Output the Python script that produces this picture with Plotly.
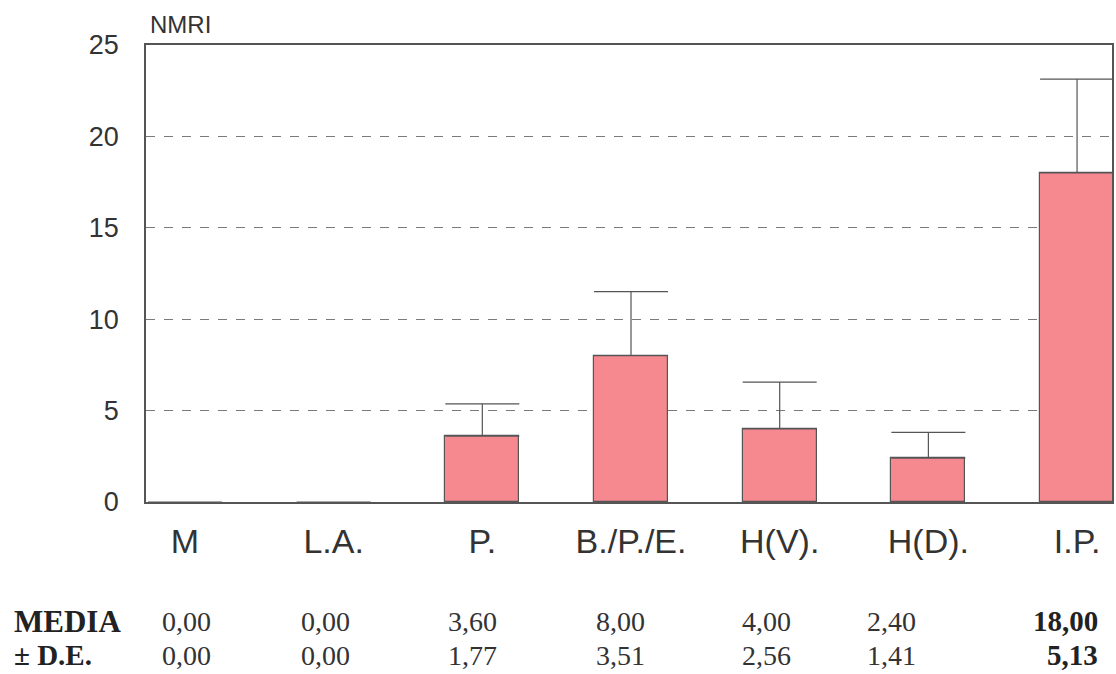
import plotly.graph_objects as go

categories = ["M", "L.A.", "P.", "B./P./E.", "H(V).", "H(D).", "I.P."]
media = [0.00, 0.00, 3.60, 8.00, 4.00, 2.40, 18.00]
de = [0.00, 0.00, 1.77, 3.51, 2.56, 1.41, 5.13]
media_labels = ["0,00", "0,00", "3,60", "8,00", "4,00", "2,40", "18,00"]
de_labels = ["0,00", "0,00", "1,77", "3,51", "2,56", "1,41", "5,13"]
y_ticks = [0, 5, 10, 15, 20, 25]

W, H = 1116, 674
L, R, T, B = 146, 2, 45, 172
PW = W - L - R
PH = H - T - B

def px2paper_x(px):
    return (px - L) / PW

def py2paper_y(py):
    return (H - B - py) / PH

fig = go.Figure()
fig.add_trace(go.Bar(
    x=list(range(len(categories))),
    y=media,
    width=0.497,
    marker=dict(color="#f5898f",
                line=dict(color="#555555", width=[1.2 if v > 0 else 0 for v in media])),
    error_y=dict(type="data", symmetric=False, array=de, arrayminus=[0] * len(de),
                 color="#555555", thickness=1.2, width=37),
    showlegend=False,
))

fig.update_layout(
    width=W, height=H,
    margin=dict(l=L, r=R, t=T, b=B, pad=0),
    paper_bgcolor="white", plot_bgcolor="white",
    font=dict(family="Liberation Sans, Arial, sans-serif", color="#333333"),
    bargap=0,
)
fig.update_xaxes(
    tickmode="array", tickvals=list(range(len(categories))), ticktext=categories,
    range=[-0.262, 6.235], showgrid=False, zeroline=False,
    showline=True, linecolor="#555555", linewidth=1.5, mirror=True,
    ticks="", tickfont=dict(size=34, color="#333333"), ticklabelstandoff=8,
)
fig.update_yaxes(
    range=[0, 25], tickvals=y_ticks, showgrid=True, gridcolor="#7a7a7a",
    griddash="dash", gridwidth=1, zeroline=False,
    showline=True, linecolor="#555555", linewidth=1.5, mirror=True,
    ticks="", tickfont=dict(size=27, color="#333333"), ticklabelstandoff=20,
)

ann = []
ann.append(dict(text="NMRI", x=px2paper_x(148), y=py2paper_y(25), xref="paper", yref="paper",
                xanchor="left", yanchor="middle", showarrow=False,
                font=dict(size=24, color="#333333", family="Liberation Sans, Arial, sans-serif")))

serif = "Liberation Serif, Times New Roman, serif"
row_y = [621, 655]
ann.append(dict(text="<b>MEDIA</b>", x=px2paper_x(12), y=py2paper_y(row_y[0]), xref="paper", yref="paper",
                xanchor="left", yanchor="middle", showarrow=False,
                font=dict(size=31, color="#222222", family=serif)))
ann.append(dict(text="<b>± D.E.</b>", x=px2paper_x(12), y=py2paper_y(row_y[1]), xref="paper", yref="paper",
                xanchor="left", yanchor="middle", showarrow=False,
                font=dict(size=29, color="#222222", family=serif)))

col_centers = [187, 326, 473, 621, 768, 893]
for i in range(6):
    for r, labels in enumerate([media_labels, de_labels]):
        ann.append(dict(text=labels[i], x=px2paper_x(col_centers[i]), y=py2paper_y(row_y[r]),
                        xref="paper", yref="paper", xanchor="center", yanchor="middle",
                        showarrow=False, font=dict(size=28, color="#333333", family=serif)))
for r, labels in enumerate([media_labels, de_labels]):
    ann.append(dict(text="<b>" + labels[6] + "</b>", x=px2paper_x(1102), y=py2paper_y(row_y[r]),
                    xref="paper", yref="paper", xanchor="right", yanchor="middle",
                    showarrow=False, font=dict(size=29, color="#222222", family=serif)))

fig.update_layout(annotations=ann)
fig.write_html("out.html", config={"displayModeBar": False},
               post_script="document.body.style.margin='0';document.body.style.overflow='hidden';")
